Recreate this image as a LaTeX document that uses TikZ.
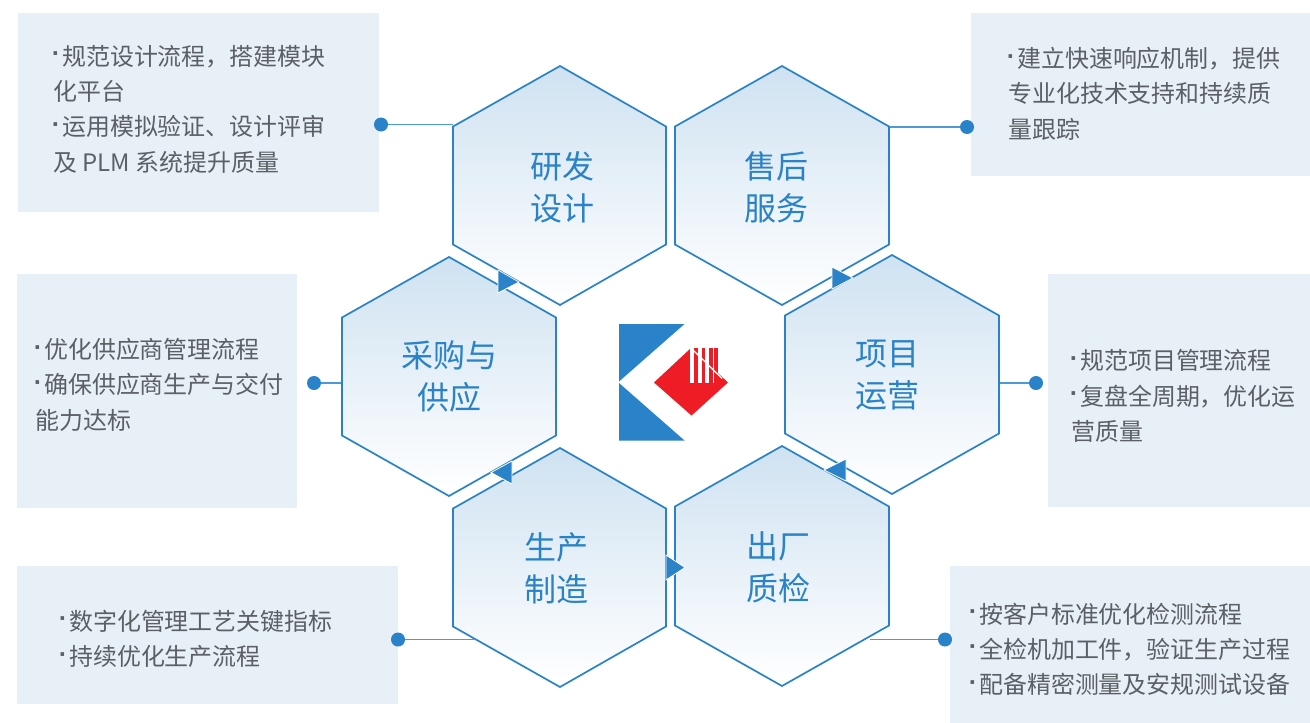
\documentclass[tikz,border=0pt]{standalone}
\usepackage{fontspec}
\setmainfont{Noto Sans CJK SC}
\newfontfamily\dotfont{DejaVu Sans}
\definecolor{boxfill}{HTML}{E7EFF7}
\definecolor{blueline}{HTML}{2A82C8}
\definecolor{thinline}{HTML}{4A9AD6}
\definecolor{hextop}{HTML}{CFE2F1}
\definecolor{bodytext}{HTML}{5A6064}
\definecolor{titletext}{HTML}{2A82C7}
\definecolor{logored}{HTML}{EE1C25}
\tikzset{
  x=1pt,y=-1pt,
  infobox/.style={fill=boxfill,draw=none},
  bodynode/.style={anchor=north west,inner sep=0pt,align=left,text=bodytext,font=\fontsize{23.95}{35.3}\selectfont},
  titlenode/.style={align=center,text=titletext,inner sep=0pt,font=\fontsize{32}{42}\selectfont},
  hexface/.style={draw=blueline,line width=1.7pt,top color=hextop,bottom color=white,line join=miter},
  tipshape/.style={fill=blueline,draw=white,line width=0.8pt},
  linkline/.style={draw=thinline,line width=1.1pt},
  linkdot/.style={circle,fill=blueline,draw=none,inner sep=0pt,minimum size=14pt},
}
\newcommand{\bul}{\makebox[9pt][l]{\hspace*{-1.5pt}\raisebox{4.5pt}{\dotfont\bfseries\fontsize{20}{20}\selectfont ·}}}
% \hexcell{name}{cx}{top}{bottom}{left}{right}{title x}{title y}{title}
\newcommand{\hexcell}[9]{%
  \path[hexface] (#2,#3) -- (#6,#3+60.5) -- (#6,#4-60.5) -- (#2,#4) -- (#5,#4-60.5) -- (#5,#3+60.5) -- cycle;
  \node[titlenode] (#1) at (#7,#8) {#9};
}
\begin{document}
\begin{tikzpicture}
\useasboundingbox (0,0) rectangle (1310,723);
\fill[white] (0,0) rectangle (1310,723);
% information boxes
\path[infobox] (18,13) rectangle (379,212);
\path[infobox] (971,13) rectangle (1310,176);
\path[infobox] (17,274) rectangle (297,508);
\path[infobox] (1048,274) rectangle (1310,507);
\path[infobox] (17,566) rectangle (398,704);
\path[infobox] (950,566) rectangle (1310,723);
\node[bodynode] (t1) at (53,45) {\bul 规范设计流程，搭建模块\\化平台\\\bul 运用模拟验证、设计评审\\及 PLM 系统提升质量};
\node[bodynode] (t2) at (1008,47) {\bul 建立快速响应机制，提供\\专业化技术支持和持续质\\量跟踪};
\node[bodynode] (t3) at (35,338) {\bul 优化供应商管理流程\\\bul 确保供应商生产与交付\\能力达标};
\node[bodynode] (t4) at (1071,349.5) {\bul 规范项目管理流程\\\bul 复盘全周期，优化运\\营质量};
\node[bodynode] (t5) at (60,610) {\bul 数字化管理工艺关键指标\\\bul 持续优化生产流程};
\node[bodynode] (t6) at (970,602.5) {\bul 按客户标准优化检测流程\\\bul 全检机加工件，验证生产过程\\\bul 配备精密测量及安规测试设备};
% connectors
\node[linkdot] (d1) at (381,124.5) {};
\node[linkdot] (d2) at (967,127) {};
\node[linkdot] (d3) at (314,383) {};
\node[linkdot] (d4) at (1036,383) {};
\node[linkdot] (d5) at (398,639.5) {};
\node[linkdot] (d6) at (945,639.5) {};
\coordinate (e1) at (453,124.5);
\coordinate (e2) at (889,127);
\coordinate (e3) at (342,383);
\coordinate (e4) at (999,383);
\coordinate (e5) at (474,639.5);
\coordinate (e6) at (870,639.5);
\draw[linkline] (d1) -- (e1);
\draw[linkline] (d2) -- (e2);
\draw[linkline] (d3) -- (e3);
\draw[linkline] (d4) -- (e4);
\draw[linkline] (d5) -- (e5);
\draw[linkline] (d6) -- (e6);
% hexagons
\hexcell{h1}{560}{66}{305}{453}{666}{562.5}{187}{研发\\设计}
\hexcell{h2}{782}{66}{305}{675}{889}{776}{187}{售后\\服务}
\hexcell{h3}{449}{257}{496}{342}{556}{449}{376.5}{采购与\\供应}
\hexcell{h4}{892}{255}{494}{785}{999}{887}{375.5}{项目\\运营}
\hexcell{h5}{560}{448}{687}{453}{666}{556}{568.5}{生产\\制造}
\hexcell{h6}{782}{446}{686}{675}{889}{778.5}{567}{出厂\\质检}
% direction marks
\path[tipshape] (498,270) -- (519,282) -- (498,293) -- cycle;
\path[tipshape] (832,267) -- (853,278) -- (832,289) -- cycle;
\path[tipshape] (846,459) -- (824,470) -- (846,481) -- cycle;
\path[tipshape] (512,461) -- (491,472.5) -- (512,484) -- cycle;
\path[tipshape] (666,555) -- (685,567.5) -- (666,580) -- cycle;
% logo
\fill[blueline] (619,324) -- (684.5,324) -- (619,381.5) -- cycle;
\fill[blueline] (619,383) -- (684.5,440.5) -- (619,440.5) -- cycle;
\fill[logored] (654,382.5) -- (691,348) -- (728,382.5) -- (691.5,415.5) -- cycle;
\fill[white] (690,347) rectangle (717.5,383);
\fill[logored] (694.3,348) rectangle (697.7,383);
\fill[logored] (701.7,348) rectangle (705.3,383);
\fill[logored] (709.3,348) rectangle (712.7,383);
\fill[logored] (714,348) rectangle (717.5,383);
\draw[white,line width=1.3pt] (691,348) -- (722,378.5);
\end{tikzpicture}
\end{document}
